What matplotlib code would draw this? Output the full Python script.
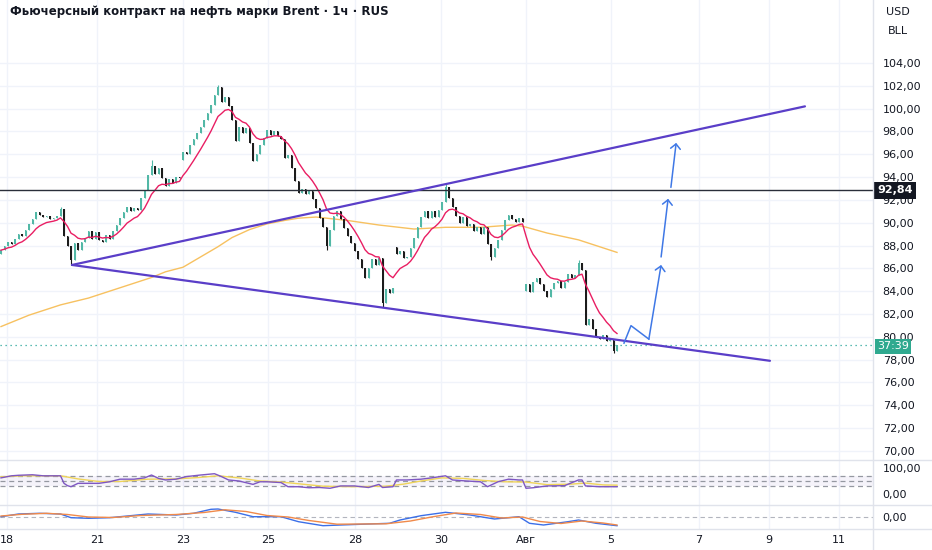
import matplotlib
matplotlib.use("Agg")
import matplotlib.pyplot as plt
import numpy as np
import pandas as pd
from matplotlib.lines import Line2D

plt.rcParams['font.family'] = ['DejaVu Sans']

# ---------------- data ----------------
closes = [
    87.6, 88.0, 88.3, 88.1, 88.6, 89.0, 88.8, 89.4, 89.9, 90.3,
    90.9, 90.7, 90.5, 90.6, 90.3, 90.4, 90.6, 91.2, 88.8, 88.0,
    86.7, 88.2, 87.6, 88.3, 88.7, 89.3, 88.6, 89.2, 88.5, 88.3,
    88.9, 88.6, 89.3, 89.8, 90.4, 90.9, 91.4, 91.0, 91.3, 91.1,
    92.2, 92.9, 94.2, 95.0, 94.3, 94.8, 93.9, 93.2, 93.8, 93.5,
    94.0, 93.9, 96.2, 96.0, 96.8, 97.3, 97.9, 98.4, 99.0, 99.6,
    100.3, 101.2, 101.9, 100.6, 101.0, 100.2, 99.0, 97.2, 98.4, 97.9,
    98.3, 97.0, 95.4, 96.0, 96.8, 97.4, 98.1, 97.7, 98.0, 97.6,
    97.3, 95.7, 95.9, 94.8, 93.7, 92.6, 93.0, 92.5, 92.8, 92.1,
    91.3, 90.4, 89.6, 88.0, 89.4, 90.6, 91.0, 90.3, 89.5, 88.8,
    88.2, 87.5, 86.8, 86.0, 85.2, 86.0, 86.8, 86.3, 86.9, 83.0,
    84.2, 83.8, 84.3, 87.3, 87.5, 86.9, 87.0, 87.8, 88.7, 89.6,
    90.5, 91.0, 90.4, 91.0, 90.5, 91.1, 91.8, 93.1, 92.2, 91.4,
    90.6, 90.0, 90.5, 89.7, 89.9, 89.3, 89.6, 89.0, 89.6, 88.1,
    87.0, 87.8, 88.5, 89.4, 90.2, 90.7, 90.3, 90.1, 90.4, 90.1,
    84.6, 83.9, 84.8, 85.2, 84.6, 84.0, 83.5, 84.2, 84.7, 84.9,
    84.3, 84.8, 85.5, 85.2, 85.4, 86.5, 85.9, 81.0, 81.6, 80.7,
    80.0, 79.8, 80.2, 79.6, 79.7, 78.8, 79.3,
]
gap_opens = {0: 87.3, 52: 95.5, 113: 87.9, 150: 84.0}
wick_highs = {17: 91.4, 43: 95.5, 62: 102.1, 127: 93.4, 165: 86.7}
wick_lows = {20: 86.3, 93: 87.6, 109: 82.6, 140: 86.7, 175: 78.6}

slow_ma = [(0, 80.9), (8, 81.9), (17, 82.8), (25, 83.4), (31, 84.0), (37, 84.6),
           (43, 85.2), (47, 85.7), (52, 86.1), (57, 87.0), (62, 87.9), (66, 88.7),
           (71, 89.4), (76, 89.9), (81, 90.2), (85, 90.4), (90, 90.5), (99, 90.2),
           (108, 89.8), (118, 89.45), (127, 89.6), (137, 89.6), (146, 89.8),
           (149, 89.7), (156, 89.1), (165, 88.5), (176, 87.4)]

rsi_line = [(0, 62), (3, 70), (5, 72), (9, 74), (12, 70), (16, 70), (17, 70), (18, 41),
            (19, 32), (20, 28), (22, 41), (25, 41), (28, 41), (31, 47), (34, 57),
            (38, 57), (41, 62), (43, 73), (45, 60), (47, 54), (50, 57), (53, 67),
            (57, 73), (61, 78), (63, 67), (65, 54), (68, 50), (72, 37), (74, 47),
            (76, 47), (80, 44), (82, 28), (85, 28), (88, 24), (91, 25), (94, 22),
            (97, 31), (101, 31), (105, 25), (108, 37), (109, 25), (112, 28),
            (113, 54), (116, 54), (120, 57), (123, 62), (127, 70), (129, 54),
            (133, 50), (137, 47), (139, 28), (142, 47), (145, 57), (148, 54),
            (149, 54), (150, 22), (152, 24), (156, 31), (161, 32), (165, 54),
            (166, 54), (167, 31), (171, 28), (176, 28)]
rsi_avg = [(0, 66), (6, 70), (17, 70), (22, 58), (28, 48), (34, 48), (42, 57),
           (50, 58), (56, 63), (62, 70), (68, 62), (74, 50), (80, 46), (86, 38),
           (92, 30), (100, 28), (110, 30), (115, 38), (120, 50), (126, 62),
           (132, 60), (138, 52), (144, 47), (150, 46), (156, 36), (163, 38),
           (167, 42), (172, 35), (176, 34)]

macd_line = [(0, 0.03), (5, 0.30), (11, 0.37), (17, 0.30), (20, -0.07), (25, -0.13),
             (31, -0.07), (37, 0.13), (42, 0.30), (50, 0.20), (55, 0.37), (60, 0.77),
             (62, 0.80), (67, 0.47), (72, 0.03), (80, 0.03), (85, -0.47), (92, -0.87),
             (97, -0.80), (105, -0.70), (111, -0.63), (114, -0.30), (120, 0.13),
             (127, 0.47), (134, 0.20), (141, -0.20), (148, 0.03), (151, -0.63),
             (155, -0.80), (162, -0.47), (165, -0.30), (170, -0.63), (176, -0.87)]
macd_signal = [(0, 0.10), (6, 0.27), (13, 0.37), (19, 0.25), (25, 0.0), (32, -0.05),
               (40, 0.15), (50, 0.25), (58, 0.45), (64, 0.72), (70, 0.55), (76, 0.15),
               (82, 0.0), (88, -0.35), (96, -0.72), (110, -0.68), (117, -0.40),
               (123, 0.0), (130, 0.40), (137, 0.25), (143, -0.10), (149, 0.0),
               (154, -0.45), (160, -0.65), (166, -0.40), (172, -0.60), (176, -0.80)]

wedge_upper = [(20.3, 86.3), (229.7, 100.2)]
wedge_lower = [(20.3, 86.3), (219.7, 77.9)]
path_wave = [(178.0, 79.45), (180.0, 80.98), (185.1, 79.8), (188.6, 86.3)]
path_leg2 = [(188.6, 87.0), (190.6, 92.1)]
path_leg3 = [(191.4, 93.1), (192.9, 97.0)]

level_price = 92.84
last_price = 79.3
countdown = "37:39"
title = "Фьючерсный контракт на нефть марки Brent · 1ч · RUS"
date_labels = ["18", "21", "23", "25", "28", "30", "Авг", "5", "7", "9", "11"]
price_ticks = list(range(70, 106, 2))

# ---------------- layout ----------------
W, H = 932, 550
BAR_PX = 3.5
date_pos = [1.7, 27.4, 52, 76.3, 101.1, 125.7, 150, 174.3, 199.4, 219.4, 239.4]

fig = plt.figure(figsize=(W / 100, H / 100), dpi=100)
fig.patch.set_facecolor('white')
pr = 873 / W


def fy(py):
    return 1 - py / H


ax = fig.add_axes([0, fy(460), pr, 460 / H])
ax_rsi = fig.add_axes([0, fy(505), pr, 45 / H], sharex=ax)
ax_macd = fig.add_axes([0, fy(529), pr, 24 / H], sharex=ax)

TXT = '#131722'
GRID = '#f0f3fa'
for a in (ax, ax_rsi, ax_macd):
    for s in a.spines.values():
        s.set_visible(False)
    a.set_facecolor('white')
    for p in date_pos:
        a.axvline(p, color=GRID, lw=1, zorder=0)
    a.yaxis.tick_right()
    a.tick_params(axis='both', length=0, labelsize=8, labelcolor=TXT, pad=7)

ax.set_xlim(-1 / BAR_PX, 872 / BAR_PX)
ax.set_ylim(104 - 397 / 11.41, 104 + 63 / 11.41)
ax_rsi.set_ylim((494 - 505) / 0.26, (494 - 460) / 0.26)
ax_macd.set_ylim(-1.2, 1.2)


def fmt(v):
    return f"{v:.2f}".replace('.', ',')


ax.set_yticks(price_ticks)
ax.set_yticklabels([fmt(v) for v in price_ticks])
for p in price_ticks:
    ax.axhline(p, color=GRID, lw=1, zorder=0)
ax_rsi.set_yticks([100, 0])
ax_rsi.set_yticklabels([fmt(100), fmt(0)])
ax_macd.set_yticks([0])
ax_macd.set_yticklabels([fmt(0)])
ax.tick_params(axis='x', labelbottom=False)
ax_rsi.tick_params(axis='x', labelbottom=False)
ax_macd.set_xticks(date_pos)
ax_macd.set_xticklabels(date_labels)
ax_macd.tick_params(axis='x', pad=4)

# ---------------- candles ----------------
n = len(closes)
x = np.arange(n)
opens = [gap_opens.get(i, closes[i - 1] if i > 0 else closes[0]) for i in range(n)]
UP, DOWN = '#52b8a6', '#1c1c1c'
cols = [UP if c >= o else DOWN for o, c in zip(opens, closes)]
bottoms = [min(o, c) for o, c in zip(opens, closes)]
heights = [max(abs(c - o), 0.12) for o, c in zip(opens, closes)]
highs = [wick_highs.get(i, max(opens[i], closes[i])) for i in range(n)]
lows = [wick_lows.get(i, min(opens[i], closes[i])) for i in range(n)]
ax.vlines(x, lows, highs, colors=cols, lw=0.8, zorder=3)
ax.bar(x, heights, bottom=bottoms, width=0.55, color=cols, linewidth=0, zorder=3)

ema = pd.Series(closes).ewm(span=9, adjust=False).mean()
ax.plot(x, ema, color='#e91e63', lw=1.0, zorder=4)
sx, sy = zip(*slow_ma)
ax.plot(sx, sy, color='#f7c160', lw=1.0, zorder=2)

# horizontal level and last price
ax.axhline(level_price, color='#2a2e39', lw=1.0, zorder=5)
ax.axhline(last_price, color='#26a69a', lw=0.9, ls=(0, (1, 3)), zorder=2)

# wedge
for seg in (wedge_upper, wedge_lower):
    wx, wy = zip(*seg)
    ax.plot(wx, wy, color='#5a3ec8', lw=1.6, zorder=6, solid_capstyle='round')

# projected path
BLUE = '#3f78e6'
wx, wy = zip(*path_wave[:-1])
ax.plot(wx, wy, color=BLUE, lw=1.1, zorder=6)
for seg in (path_wave[-2:], path_leg2, path_leg3):
    ax.annotate('', xy=seg[1], xytext=seg[0],
                arrowprops=dict(arrowstyle='->,head_length=0.35,head_width=0.35',
                                color=BLUE, lw=1.1, shrinkA=0, shrinkB=0),
                zorder=6)

# right-axis price labels
ax.annotate(fmt(level_price), xy=(1.0, level_price), xycoords=('axes fraction', 'data'),
            xytext=(3, 0), textcoords='offset points', ha='left', va='center',
            fontsize=8, color='white', weight='bold', annotation_clip=False,
            bbox=dict(boxstyle='square,pad=0.3', fc=TXT, ec='none'), zorder=10)
ax.annotate(countdown, xy=(1.0, last_price), xycoords=('axes fraction', 'data'),
            xytext=(3, -1), textcoords='offset points', ha='left', va='center',
            fontsize=8, color='white', annotation_clip=False,
            bbox=dict(boxstyle='square,pad=0.22', fc='#2fa98f', ec='none'), zorder=10)

# ---------------- RSI ----------------
ax_rsi.axhspan(30, 70, color='#7e57c2', alpha=0.07, lw=0, zorder=0)
for lv in (70, 50, 30):
    ax_rsi.axhline(lv, color='#9598a1', lw=0.9, ls=(0, (4, 3)), zorder=1)
rx, ry = zip(*rsi_avg)
ax_rsi.plot(rx, ry, color='#f0d55a', lw=1.0, zorder=2)
rx, ry = zip(*rsi_line)
ax_rsi.plot(rx, ry, color='#7e57c2', lw=1.0, zorder=3)

# ---------------- MACD ----------------
ax_macd.axhline(0, color='#b2b5be', lw=0.8, ls=(0, (4, 3)), zorder=1)
mx, my = zip(*macd_signal)
ax_macd.plot(mx, my, color='#f08a4b', lw=1.0, zorder=3)
mx, my = zip(*macd_line)
ax_macd.plot(mx, my, color='#3b6fe8', lw=1.0, zorder=2)

# ---------------- frame / separators / header ----------------
SEP = '#e0e3eb'
for yy in (460, 505, 529):
    fig.add_artist(Line2D([0, 1], [fy(yy), fy(yy)], color=SEP, lw=1))
fig.add_artist(Line2D([pr, pr], [0, 1], color=SEP, lw=1))

fig.text(10 / W, fy(12), title, ha='left', va='center', fontsize=8.5, weight='bold', color=TXT)
fig.text(898 / W, fy(12), "USD", ha='center', va='center', fontsize=8, color=TXT)
fig.text(898 / W, fy(31), "BLL", ha='center', va='center', fontsize=8, color=TXT)

fig.savefig('out.png', dpi=100, facecolor='white')
